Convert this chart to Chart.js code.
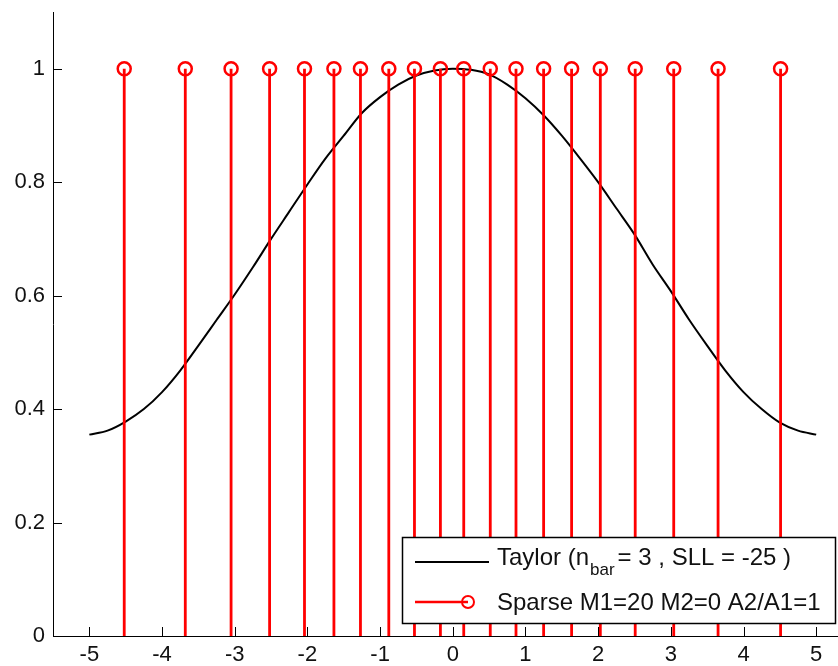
<!DOCTYPE html>
<html>
<head>
<meta charset="utf-8">
<script src="https://cdn.jsdelivr.net/npm/chart.js@4.4.0/dist/chart.umd.min.js"></script>
<style>
  html, body { margin: 0; padding: 0; background: #fff; }
  #wrap { width: 838px; height: 666px; }
</style>
</head>
<body>
<div id="wrap"><canvas id="stemChart" width="838" height="666"></canvas></div>
<script>
// Taylor taper (nbar = 3, SLL = -25)
const taylorX = [-5, -4.75, -4.5, -4.25, -4, -3.75, -3.5, -3.25, -3, -2.75, -2.5, -2.25, -2, -1.75, -1.5, -1.25, -1, -0.75, -0.5, -0.25,
  0, 0.25, 0.5, 0.75, 1, 1.25, 1.5, 1.75, 2, 2.25, 2.5, 2.75, 3, 3.25, 3.5, 3.75, 4, 4.25, 4.5, 4.75, 5]
const taylorY = [0.355, 0.362, 0.378, 0.400, 0.430, 0.468, 0.512, 0.557, 0.602, 0.650, 0.700, 0.748, 0.796, 0.842, 0.882, 0.922, 0.950, 0.972, 0.988, 0.997,
  1.0, 0.998, 0.990, 0.972, 0.948, 0.918, 0.882, 0.842, 0.800, 0.754, 0.708, 0.655, 0.608, 0.558, 0.512, 0.468, 0.430, 0.400, 0.376, 0.362, 0.355]

// sparse array element positions (M1 = 20), all amplitude 1
const stemX = [-4.52, -3.68, -3.05, -2.52, -2.04, -1.635, -1.27, -0.88, -0.527, -0.17,
  0.151, 0.516, 0.87, 1.25, 1.635, 2.03, 2.51, 3.04, 3.65, 4.51]
const stemY = [1, 1, 1, 1, 1, 1, 1, 1, 1, 1, 1, 1, 1, 1, 1, 1, 1, 1, 1, 1]

const xTicks = [-5, -4, -3, -2, -1, 0, 1, 2, 3, 4, 5]
const yTicks = [0, 0.2, 0.4, 0.6, 0.8, 1]

const FONT = 'Arial, "Liberation Sans", sans-serif'
const RED = '#ff0000'

// each stem: baseline point, top point, then a gap
const stemPoints = []
stemX.forEach((x, i) => {
  stemPoints.push({ x: x, y: 0 })
  stemPoints.push({ x: x, y: stemY[i] })
  stemPoints.push({ x: x, y: null })
})

// matlab style ticks pointing into the axes
const inwardTicks = {
  id: 'inwardTicks',
  afterDatasetsDraw(chart) {
    const { ctx, chartArea, scales: { x, y } } = chart
    ctx.save()
    ctx.strokeStyle = '#000'
    ctx.lineWidth = 1
    ctx.beginPath()
    xTicks.forEach(v => {
      const px = Math.round(x.getPixelForValue(v)) + 0.5
      ctx.moveTo(px, chartArea.bottom)
      ctx.lineTo(px, chartArea.bottom - 9)
    })
    yTicks.forEach(v => {
      const py = Math.round(y.getPixelForValue(v)) + 0.5
      ctx.moveTo(chartArea.left, py)
      ctx.lineTo(chartArea.left + 9, py)
    })
    ctx.stroke()
    ctx.restore()
  }
}

// legend box in the lower right corner
const boxLegend = {
  id: 'boxLegend',
  afterDraw(chart) {
    const { ctx, chartArea } = chart
    const w = 433, h = 86
    const left = chartArea.right - 3 - w
    const top = chartArea.bottom - 13 - h
    ctx.save()
    ctx.fillStyle = '#fff'
    ctx.fillRect(left, top, w, h)
    ctx.strokeStyle = '#000'
    ctx.lineWidth = 1.5
    ctx.strokeRect(left + 0.5, top + 0.5, w, h)

    // Taylor entry
    const y1 = top + 25
    ctx.strokeStyle = '#000'
    ctx.lineWidth = 2
    ctx.beginPath()
    ctx.moveTo(left + 13, y1)
    ctx.lineTo(left + 87, y1)
    ctx.stroke()

    ctx.fillStyle = '#111'
    ctx.textBaseline = 'alphabetic'
    ctx.textAlign = 'left'
    let tx = left + 95
    const base1 = top + 28
    ctx.font = '24px ' + FONT
    ctx.fillText('Taylor (n', tx, base1)
    tx += ctx.measureText('Taylor (n').width + 1
    ctx.font = '17px ' + FONT
    ctx.fillText('bar', tx, base1 + 10)
    tx += ctx.measureText('bar').width + 3
    ctx.font = '24px ' + FONT
    ctx.fillText('= 3 , SLL = -25 )', tx, base1)

    // Sparse entry
    const y2 = top + 65
    ctx.strokeStyle = RED
    ctx.lineWidth = 2.5
    ctx.beginPath()
    ctx.moveTo(left + 13, y2)
    ctx.lineTo(left + 66, y2)
    ctx.stroke()
    ctx.lineWidth = 2
    ctx.beginPath()
    ctx.arc(left + 66, y2, 6, 0, Math.PI * 2)
    ctx.stroke()
    ctx.fillStyle = '#111'
    ctx.font = '24px ' + FONT
    ctx.fillText('Sparse M1=20 M2=0 A2/A1=1', left + 95, top + 73)
    ctx.restore()
  }
}

new Chart(document.getElementById('stemChart').getContext('2d'), {
  type: 'line',
  data: {
    datasets: [
      {
        label: 'Sparse M1=20 M2=0 A2/A1=1',
        data: stemPoints,
        borderColor: RED,
        borderWidth: 2.8,
        spanGaps: false,
        pointStyle: 'circle',
        pointRadius: ctx => (ctx.raw && ctx.raw.y ? 6.5 : 0),
        pointHoverRadius: 0,
        pointBorderColor: RED,
        pointBorderWidth: 2.5,
        pointBackgroundColor: 'rgba(0,0,0,0)',
      },
      {
        label: 'Taylor (nbar= 3 , SLL = -25 )',
        data: taylorX.map((x, i) => ({ x: x, y: taylorY[i] })),
        borderColor: '#000',
        borderWidth: 2,
        pointRadius: 0,
        cubicInterpolationMode: 'monotone',
      },
    ],
  },
  options: {
    responsive: false,
    animation: false,
    events: [],
    devicePixelRatio: 1,
    layout: { padding: { top: 12, right: 0, bottom: 0, left: 0 } },
    plugins: { legend: { display: false }, tooltip: { enabled: false } },
    scales: {
      x: {
        type: 'linear',
        min: -5.5,
        max: 5.3,
        afterBuildTicks: scale => { scale.ticks = xTicks.map(v => ({ value: v })) },
        afterFit: scale => {
          scale.height = 30
          scale.paddingLeft = 0
          scale.paddingRight = 0
        },
        grid: { display: false, drawTicks: false },
        border: { display: true, color: '#000', width: 1 },
        ticks: {
          font: { family: FONT, size: 22 },
          color: '#111',
          padding: 6,
          maxRotation: 0,
          autoSkip: false,
          callback: v => String(v),
        },
      },
      y: {
        type: 'linear',
        min: 0,
        max: 1.1,
        afterBuildTicks: scale => { scale.ticks = yTicks.map(v => ({ value: v })) },
        afterFit: scale => {
          scale.width = 53
          scale.paddingTop = 0
          scale.paddingBottom = 0
        },
        grid: { display: false, drawTicks: false },
        border: { display: true, color: '#000', width: 1 },
        ticks: {
          font: { family: FONT, size: 22 },
          color: '#111',
          padding: 8,
          autoSkip: false,
          callback: v => String(v),
        },
      },
    },
  },
  plugins: [inwardTicks, boxLegend],
})
</script>
</body>
</html>
